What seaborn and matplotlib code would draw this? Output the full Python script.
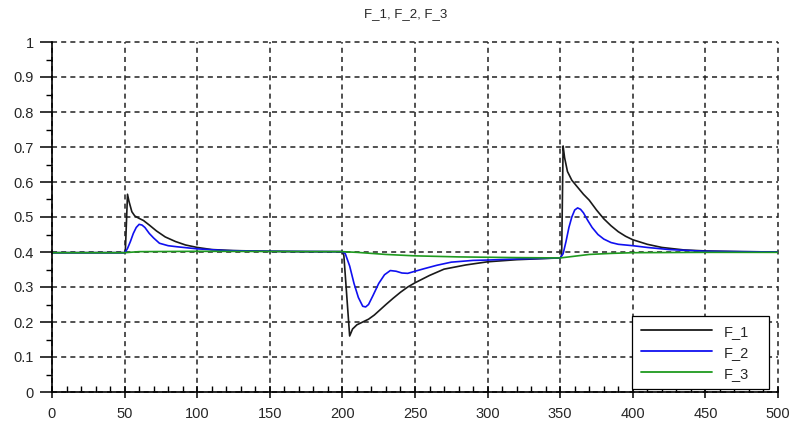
import numpy as np
import pandas as pd
import matplotlib
matplotlib.use("Agg")
import matplotlib.pyplot as plt
import seaborn as sns
from matplotlib.ticker import MultipleLocator

# ---- data ----
f1_x = [0, 50, 50.5, 52, 53, 55, 57, 60, 63, 67, 72, 78, 85, 92, 100, 110, 125, 150, 175,
        200, 201, 205, 207, 210, 214, 218, 222, 226, 230, 235, 240, 245, 250, 260, 270,
        285, 300, 320, 343, 350, 351, 352, 353, 355, 358, 362, 366, 370, 375, 380, 385,
        390, 395, 400, 410, 420, 435, 450, 475, 500]
f1_y = [0.398, 0.398, 0.40, 0.565, 0.545, 0.515, 0.503, 0.496, 0.49, 0.477, 0.46, 0.443,
        0.43, 0.42, 0.413, 0.407, 0.404, 0.402, 0.401,
        0.401, 0.39, 0.16, 0.18, 0.192, 0.20, 0.208, 0.22, 0.235, 0.25, 0.268, 0.285,
        0.30, 0.312, 0.333, 0.351, 0.363, 0.372, 0.378, 0.382, 0.383, 0.39, 0.703, 0.67,
        0.63, 0.605, 0.585, 0.565, 0.548, 0.52, 0.495, 0.475, 0.458, 0.445, 0.435, 0.422,
        0.413, 0.406, 0.403, 0.401, 0.40]

f2_x = [0, 50, 50.5, 52, 54, 56, 58, 60, 62, 64, 67, 70, 74, 80, 86, 100, 120, 150,
        200, 202, 205, 208, 211, 214, 216, 218, 221, 225, 229, 233, 237, 241, 245, 250,
        256, 265, 275, 290, 300, 320, 350, 352, 354, 356, 358, 360, 362, 364, 366, 369,
        372, 376, 380, 385, 390, 400, 410, 425, 450, 500]
f2_y = [0.398, 0.398, 0.40, 0.41, 0.43, 0.453, 0.47, 0.479, 0.477, 0.47, 0.453, 0.44,
        0.425, 0.418, 0.415, 0.409, 0.404, 0.402,
        0.401, 0.395, 0.36, 0.31, 0.27, 0.245, 0.243, 0.25, 0.275, 0.31, 0.335, 0.347,
        0.345, 0.34, 0.339, 0.345, 0.352, 0.362, 0.371, 0.376, 0.377, 0.38, 0.383,
        0.395, 0.43, 0.47, 0.50, 0.52, 0.526, 0.522, 0.512, 0.49, 0.47, 0.45, 0.437,
        0.427, 0.422, 0.418, 0.413, 0.407, 0.402, 0.40]

f3_x = [0, 50, 60, 100, 200, 210, 230, 250, 280, 320, 350, 360, 370, 385, 400, 450, 500]
f3_y = [0.398, 0.398, 0.401, 0.402, 0.401, 0.399, 0.393, 0.389, 0.386, 0.384, 0.383,
        0.388, 0.393, 0.396, 0.398, 0.399, 0.399]

series_names = ["F_1", "F_2", "F_3"]
x_ticks = list(range(0, 501, 50))
y_ticks = [round(0.1 * i, 1) for i in range(11)]
title = "F_1, F_2, F_3"

df = pd.concat([
    pd.DataFrame({"x": f1_x, "y": f1_y, "series": "F_1"}),
    pd.DataFrame({"x": f2_x, "y": f2_y, "series": "F_2"}),
    pd.DataFrame({"x": f3_x, "y": f3_y, "series": "F_3"}),
], ignore_index=True)

# ---- styling ----
sns.set_style("white")
plt.rcParams["font.family"] = ["Liberation Sans", "DejaVu Sans"]

fig = plt.figure(figsize=(7.91, 4.25), dpi=100)
ax = fig.add_axes([52 / 791, 1 - 392 / 425, 726 / 791, 350 / 425])

palette = {"F_1": "#1a1a1a", "F_2": "#1010f0", "F_3": "#1f9a1f"}
sns.lineplot(data=df, x="x", y="y", hue="series", hue_order=series_names,
             palette=palette, estimator=None, sort=False, linewidth=1.2, ax=ax)

ax.set_xlim(0, 500)
ax.set_ylim(0, 1)
ax.set_xticks(x_ticks)
ax.set_yticks(y_ticks)
ax.set_xticklabels([str(v) for v in x_ticks])
ax.set_yticklabels(["0" if v == 0 else ("1" if v == 1 else f"{v:g}") for v in y_ticks])
ax.xaxis.set_minor_locator(MultipleLocator(10))
ax.yaxis.set_minor_locator(MultipleLocator(0.05))
ax.set_xlabel("")
ax.set_ylabel("")

for s in ["top", "right"]:
    ax.spines[s].set_visible(False)
for s in ["left", "bottom"]:
    ax.spines[s].set_color("black")
    ax.spines[s].set_linewidth(1.2)

ax.tick_params(axis="x", which="major", direction="inout", length=8, width=1.1,
               color="black", labelsize=10.5, pad=7, bottom=True)
ax.tick_params(axis="x", which="minor", direction="in", length=4, width=1.0,
               color="black", bottom=True)
ax.tick_params(axis="y", which="major", direction="out", length=9, width=1.1,
               color="black", labelsize=10.5, pad=4, left=True)
ax.tick_params(axis="y", which="minor", direction="out", length=4, width=1.0,
               color="black", left=True)

ax.set_axisbelow(True)
ax.grid(True, which="major", color="#222222", linestyle=(0, (3.3, 2.7)), linewidth=1.1)
for gl in ax.get_xgridlines() + ax.get_ygridlines():
    gl.set_clip_on(False)

leg = ax.legend(loc="lower left", bbox_to_anchor=(0.799, 0.0086, 0.189, 0.208),
                mode="expand", borderaxespad=0, frameon=True, fancybox=False,
                fontsize=10.5, handlelength=4.9, handletextpad=0.8,
                labelspacing=0.48, borderpad=0.58, title=None)
leg.get_frame().set_edgecolor("black")
leg.get_frame().set_linewidth(0.9)
leg.get_frame().set_facecolor("white")
leg.get_frame().set_alpha(1)
for line in leg.get_lines():
    line.set_linewidth(1.3)

fig.text(406 / 791, 1 - 14 / 425, title, ha="center", va="center", fontsize=9.5)

fig.savefig("out.png", dpi=100)
